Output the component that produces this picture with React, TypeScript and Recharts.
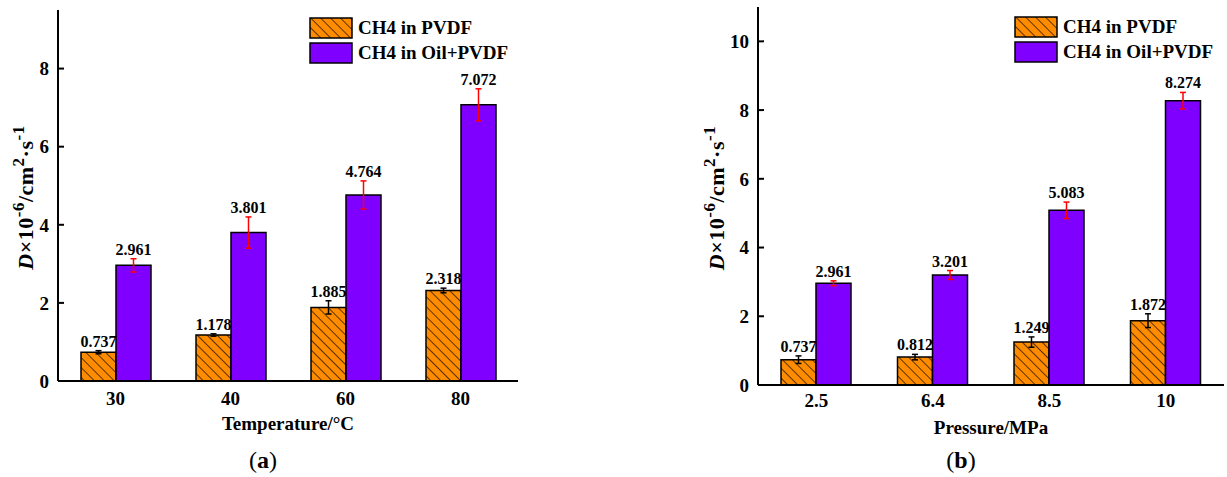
import { BarChart, Bar, XAxis, YAxis, ErrorBar, LabelList, Legend } from "recharts";

const FONT = '"Liberation Serif", "Times New Roman", serif';
const ORANGE = "#FF8C00";
const PURPLE = "#8000FF";

// (a) temperature series
const tempCats = ["30", "40", "60", "80"];
const tempPvdf = [0.737, 1.178, 1.885, 2.318];
const tempOil = [2.961, 3.801, 4.764, 7.072];
const tempPvdfErr = [0.04, 0.03, 0.17, 0.06];
const tempOilErr = [0.17, 0.4, 0.36, 0.41];
const tempTicks = [0, 2, 4, 6, 8];

// (b) pressure series
const presCats = ["2.5", "6.4", "8.5", "10"];
const presPvdf = [0.737, 0.812, 1.249, 1.872];
const presOil = [2.961, 3.201, 5.083, 8.274];
const presPvdfErr = [0.11, 0.08, 0.15, 0.2];
const presOilErr = [0.07, 0.13, 0.24, 0.24];
const presTicks = [0, 2, 4, 6, 8, 10];

const legendNames = ["CH4 in PVDF", "CH4 in Oil+PVDF"];

function HatchDef({ id }: { id: string }) {
  return (
    <pattern id={id} patternUnits="userSpaceOnUse" width={7} height={7} patternTransform="rotate(-45)">
      <rect width={7} height={7} fill={ORANGE} />
      <line x1={0} y1={0} x2={0} y2={7} stroke="#000" strokeWidth={1.3} />
    </pattern>
  );
}

function YTick(props: any) {
  const { x, y, payload, margin } = props;
  const ax = x + margin;
  return (
    <g>
      <line x1={ax} y1={y} x2={ax + 6} y2={y} stroke="#000" strokeWidth={2} />
      <text x={x} y={y} dy="0.355em" textAnchor="end" fontFamily={FONT} fontWeight="bold" fontSize={19} fill="#000">
        {payload.value}
      </text>
    </g>
  );
}

function YTitle(props: any) {
  const vb = props.viewBox || {};
  const cx = vb.x + vb.width - props.gap;
  const cy = vb.y + vb.height / 2 + 2;
  return (
    <text
      x={cx}
      y={cy}
      transform={`rotate(-90 ${cx} ${cy})`}
      textAnchor="middle"
      fontFamily={FONT}
      fontWeight="bold"
      fontSize={22}
      letterSpacing={0.5}
      fill="#000"
    >
      <tspan fontStyle="italic">D</tspan>
      <tspan>×10</tspan>
      <tspan dy={-9} fontSize={17}>-6</tspan>
      <tspan dy={9}>/cm</tspan>
      <tspan dy={-9} fontSize={17}>2</tspan>
      <tspan dy={9}>·s</tspan>
      <tspan dy={-9} fontSize={17}>-1</tspan>
    </text>
  );
}

function XTitle(props: any) {
  const vb = props.viewBox || {};
  return (
    <text
      x={vb.x + vb.width / 2}
      y={vb.y + 49}
      textAnchor="middle"
      fontFamily={FONT}
      fontWeight="bold"
      fontSize={19}
      fill="#000"
    >
      {props.text}
    </text>
  );
}

function topLabel(errs: number[]) {
  return (props: any) => {
    const vb = props.viewBox || props;
    const x = vb.x ?? props.x;
    const y = vb.y ?? props.y;
    const w = vb.width ?? props.width;
    const h = vb.height ?? props.height;
    const v = Number(props.value);
    const e = errs[props.index] ?? 0;
    const ePx = v ? (Math.abs(h) * e) / v : 0;
    return (
      <text
        x={x + w / 2}
        y={Math.min(y, y + h) - ePx - 4}
        textAnchor="middle"
        fontFamily={FONT}
        fontWeight="bold"
        fontSize={16}
        fill="#000"
      >
        {v.toFixed(3)}
      </text>
    );
  };
}

function LegendBox({ id }: { id: string }) {
  return (
    <div style={{ fontFamily: FONT, fontWeight: "bold", fontSize: 19, color: "#000" }}>
      {legendNames.map((n, i) => (
        <div key={n} style={{ display: "flex", alignItems: "center", height: 21, marginBottom: 4 }}>
          <svg width={44} height={22} style={{ display: "block" }}>
            <defs>
              <HatchDef id={id + "leg"} />
            </defs>
            <rect x={1} y={1} width={42} height={20} fill={i === 0 ? `url(#${id}leg)` : PURPLE} stroke="#000" strokeWidth={1.5} />
          </svg>
          <span style={{ marginLeft: 5, whiteSpace: "nowrap" }}>{n}</span>
        </div>
      ))}
    </div>
  );
}

function Panel(p: {
  id: string;
  cats: string[];
  pvdf: number[];
  oil: number[];
  pvdfErr: number[];
  oilErr: number[];
  ticks: number[];
  yMax: number;
  xTitle: string;
  width: number;
  height: number;
  margin: any;
  xAxisH: number;
  tickGap: number;
  titleGap: number;
  legendPos: { left: number; top: number };
}) {
  const data = p.cats.map((c, i) => ({
    cat: c,
    a: p.pvdf[i],
    b: p.oil[i],
    ea: p.pvdfErr[i],
    eb: p.oilErr[i],
  }));
  const axisLine = { stroke: "#000", strokeWidth: 2 };
  return (
    <BarChart width={p.width} height={p.height} data={data} margin={p.margin} barGap={0} barSize={35}>
      <defs>
        <HatchDef id={p.id + "hatch"} />
      </defs>
      <XAxis
        dataKey="cat"
        height={p.xAxisH}
        axisLine={axisLine}
        tickLine={false}
        tickSize={0}
        tickMargin={p.tickGap}
        tick={{ fill: "#000", fontSize: 19, fontWeight: "bold", fontFamily: FONT }}
        label={(lp: any) => <XTitle {...lp} text={p.xTitle} />}
      />
      <XAxis xAxisId="top" orientation="top" dataKey="cat" height={0} tick={false} tickLine={false} axisLine={axisLine} />
      <YAxis
        width={58}
        domain={[0, p.yMax]}
        ticks={p.ticks}
        allowDataOverflow
        axisLine={axisLine}
        tickLine={false}
        tickSize={0}
        tickMargin={9}
        tick={<YTick margin={9} />}
        label={(lp: any) => <YTitle {...lp} gap={p.titleGap} />}
      />
      <YAxis yAxisId="r" orientation="right" width={0} domain={[0, p.yMax]} tick={false} tickLine={false} axisLine={axisLine} />
      <Legend
        layout="horizontal"
        verticalAlign="middle"
        align="center"
        content={() => <LegendBox id={p.id} />}
        wrapperStyle={{ left: p.legendPos.left, top: p.legendPos.top, width: 230 }}
      />
      <Bar dataKey="a" name={legendNames[0]} fill={`url(#${p.id}hatch)`} stroke="#000" strokeWidth={1.5} isAnimationActive={false}>
        <ErrorBar dataKey="ea" width={3} stroke="#000" strokeWidth={1.5} direction="y" />
        <LabelList dataKey="a" content={topLabel(p.pvdfErr)} />
      </Bar>
      <Bar dataKey="b" name={legendNames[1]} fill={PURPLE} stroke="#000" strokeWidth={1.5} isAnimationActive={false}>
        <ErrorBar dataKey="eb" width={3} stroke="#FF0000" strokeWidth={1.5} direction="y" />
        <LabelList dataKey="b" content={topLabel(p.oilErr)} />
      </Bar>
    </BarChart>
  );
}

export default function App() {
  const capStyle: any = {
    position: "absolute",
    top: 446,
    width: 60,
    textAlign: "center",
    fontFamily: FONT,
    fontSize: 24,
    lineHeight: "28px",
    color: "#000",
  };
  return (
    <div style={{ position: "absolute", left: 0, top: 0, width: 1227, height: 477, background: "#fff", overflow: "hidden" }}>
      <div style={{ position: "absolute", left: 0, top: 0 }}>
        <Panel
          id="t"
          cats={tempCats}
          pvdf={tempPvdf}
          oil={tempOil}
          pvdfErr={tempPvdfErr}
          oilErr={tempOilErr}
          ticks={tempTicks}
          yMax={9.5}
          xTitle="Temperature/°C"
          width={540}
          height={440}
          margin={{ top: 10, right: 22, bottom: 0, left: 0 }}
          xAxisH={59}
          tickGap={11}
          titleGap={25}
          legendPos={{ left: 309, top: 17 }}
        />
      </div>
      <div style={{ position: "absolute", left: 620, top: 0 }}>
        <Panel
          id="p"
          cats={presCats}
          pvdf={presPvdf}
          oil={presOil}
          pvdfErr={presPvdfErr}
          oilErr={presOilErr}
          ticks={presTicks}
          yMax={11}
          xTitle="Pressure/MPa"
          width={607}
          height={440}
          margin={{ top: 7, right: 3, bottom: 0, left: 80 }}
          xAxisH={55}
          tickGap={9}
          titleGap={34}
          legendPos={{ left: 394, top: 16 }}
        />
      </div>
      <div style={{ ...capStyle, left: 233 }}>
        (<b>a</b>)
      </div>
      <div style={{ ...capStyle, left: 931 }}>
        (<b>b</b>)
      </div>
    </div>
  );
}
